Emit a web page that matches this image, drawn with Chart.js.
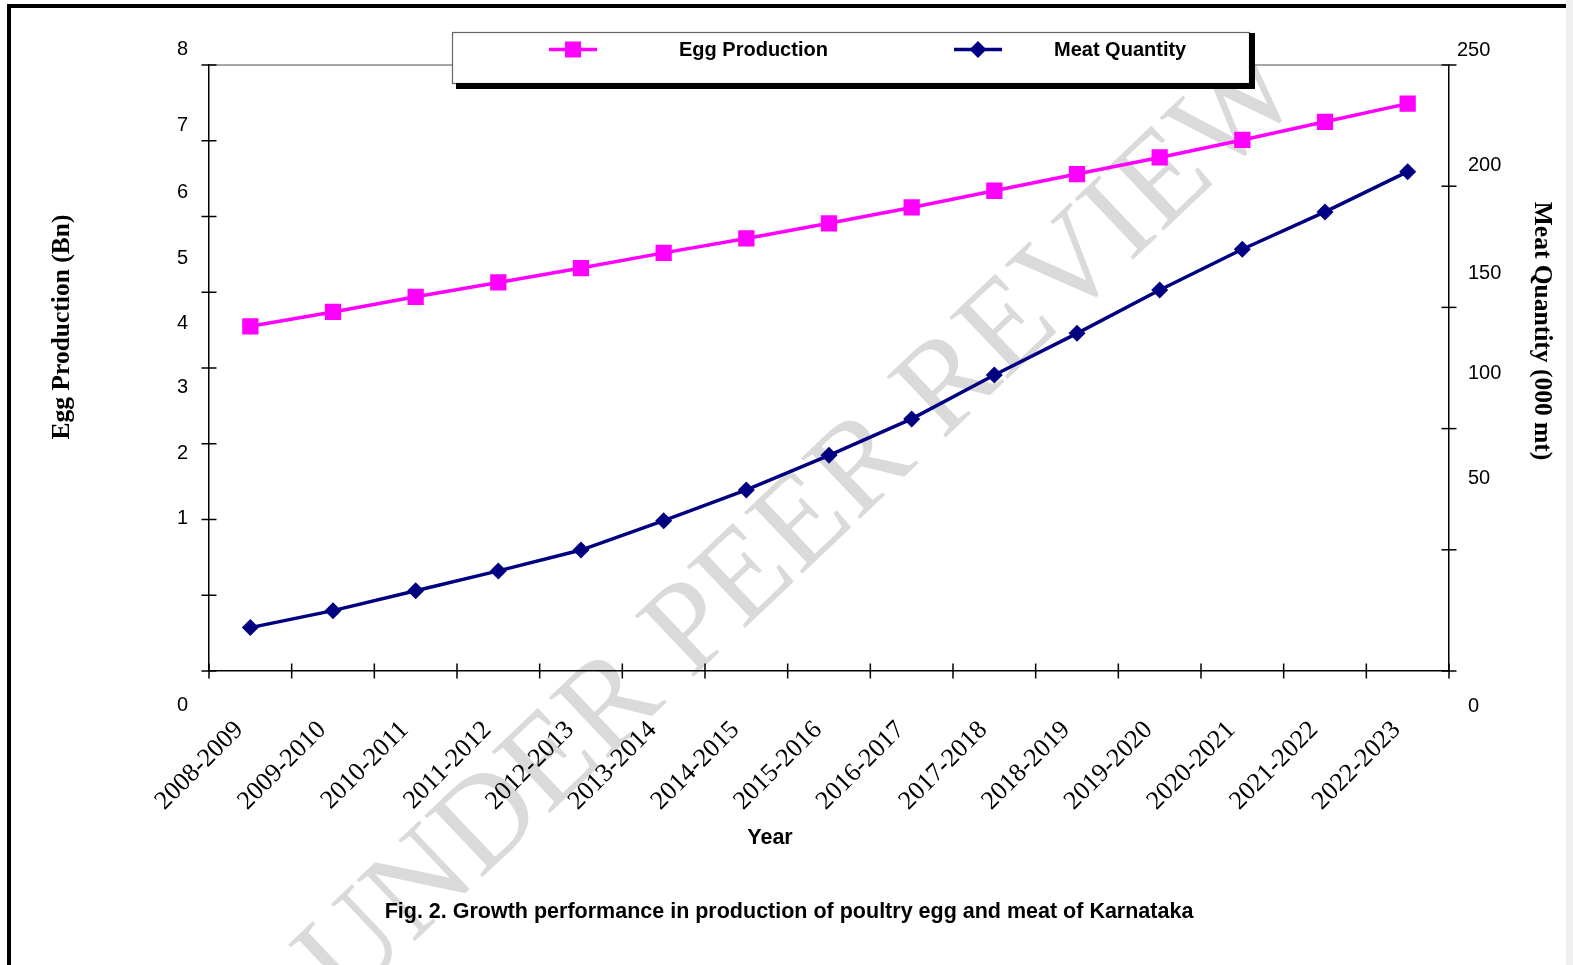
<!DOCTYPE html>
<html><head><meta charset="utf-8">
<script src="https://cdn.jsdelivr.net/npm/chart.js@4.4.0/dist/chart.umd.min.js"></script>
<style>html,body{margin:0;padding:0;background:#fff;overflow:hidden}#wrap{width:1573px;height:965px}</style>
</head><body><div id="wrap"><canvas id="c" width="1573" height="965"></canvas></div>
<script>
const years = ['2008-2009','2009-2010','2010-2011','2011-2012','2012-2013','2013-2014','2014-2015','2015-2016','2016-2017','2017-2018','2018-2019','2019-2020','2020-2021','2021-2022','2022-2023'];
const eggProduction = [4.55, 4.74, 4.94, 5.13, 5.32, 5.52, 5.71, 5.91, 6.12, 6.34, 6.56, 6.78, 7.01, 7.25, 7.49];
const meatQuantity = [17.9, 24.9, 33.1, 41.3, 49.9, 62.0, 74.7, 89.0, 104.0, 122.1, 139.3, 157.2, 174.0, 189.4, 206.0];
const eggTicks = [0, 1, 2, 3, 4, 5, 6, 7, 8];
const meatTicks = [0, 50, 100, 150, 200, 250];
const seriesNames = ['Egg Production', 'Meat Quantity'];
const leftTitle = 'Egg Production (Bn)';
const rightTitle = 'Meat Quantity (000 mt)';
const xTitle = 'Year';
const caption = 'Fig. 2. Growth performance in production of poultry egg and meat of Karnataka';
const watermark = 'UNDER PEER REVIEW';

// label placement quirks of the original figure (layout only)
const leftLabelY = [705, 518, 453, 387, 323, 258, 192, 125, 49];
const rightLabelY = [706, 478, 373, 273, 165, 50];
const rightLabelX = [1468, 1468, 1468, 1468, 1468, 1457];

function seg(ctx, x1, y1, x2, y2) { ctx.beginPath(); ctx.moveTo(x1, y1); ctx.lineTo(x2, y2); ctx.stroke(); }

const decor = {
  id: 'decor',
  beforeDraw(chart) {
    const ctx = chart.ctx;
    ctx.save();
    ctx.fillStyle = '#fff'; ctx.fillRect(0, 0, chart.width, chart.height);
    ctx.fillStyle = '#efefef'; ctx.fillRect(1566, 0, chart.width - 1566, chart.height);
    ctx.fillStyle = '#000';
    ctx.fillRect(7, 4, 1559, 4);
    ctx.fillRect(7, 4, 4, chart.height);
    ctx.translate(802, 527);
    ctx.rotate(-43.5 * Math.PI / 180);
    ctx.font = '129px "Liberation Serif"';
    ctx.fillStyle = '#dadada';
    ctx.textAlign = 'center'; ctx.textBaseline = 'middle';
    ctx.fillText(watermark, 0, 0);
    ctx.restore();
  },
  beforeDatasetsDraw(chart) {
    const ctx = chart.ctx, a = chart.chartArea, s = chart.scales;
    ctx.save();
    ctx.lineWidth = 1.5;
    ctx.strokeStyle = '#8a8a8a';
    seg(ctx, a.left, a.top, a.right, a.top);
    ctx.strokeStyle = '#000';
    eggTicks.forEach(v => { const y = s.y.getPixelForValue(v); seg(ctx, a.left - 7.5, y, a.left + 7.5, y); });
    meatTicks.forEach(v => { const y = s.y1.getPixelForValue(v); seg(ctx, a.right - 7.5, y, a.right + 7.5, y); });
    const n = years.length, w = (a.right - a.left) / n;
    for (let i = 0; i <= n; i++) { const x = a.left + i * w; seg(ctx, x, a.bottom - 7.5, x, a.bottom + 7.5); }
    ctx.fillStyle = '#000';
    ctx.font = '20px "Liberation Sans"';
    ctx.textBaseline = 'middle';
    ctx.textAlign = 'right';
    eggTicks.forEach((v, i) => ctx.fillText(String(v), 188, leftLabelY[i]));
    ctx.textAlign = 'left';
    meatTicks.forEach((v, i) => ctx.fillText(String(v), rightLabelX[i], rightLabelY[i]));
    ctx.restore();
  },
  afterDraw(chart) {
    const ctx = chart.ctx;
    const ds = chart.data.datasets;
    ctx.save();
    // legend box
    ctx.fillStyle = '#fff'; ctx.fillRect(452, 32, 798, 52);
    ctx.strokeStyle = '#666'; ctx.lineWidth = 1.2; ctx.strokeRect(452.5, 32.5, 797, 51);
    ctx.fillStyle = '#000';
    ctx.fillRect(1249, 33, 6, 56);
    ctx.fillRect(456, 83, 799, 6);
    // entries
    const ly = 49.5;
    ctx.lineWidth = 3.5;
    ctx.strokeStyle = ds[0].borderColor; seg(ctx, 549, ly, 597, ly);
    ctx.fillStyle = ds[0].borderColor; ctx.fillRect(565, ly - 8, 16, 16);
    ctx.strokeStyle = ds[1].borderColor; seg(ctx, 954, ly, 1002, ly);
    ctx.fillStyle = ds[1].borderColor;
    ctx.beginPath(); ctx.moveTo(978, ly - 8.5); ctx.lineTo(986.5, ly); ctx.lineTo(978, ly + 8.5); ctx.lineTo(969.5, ly); ctx.closePath(); ctx.fill();
    ctx.fillStyle = '#000';
    ctx.font = 'bold 20px "Liberation Sans"';
    ctx.textAlign = 'left'; ctx.textBaseline = 'middle';
    ctx.fillText(ds[0].label, 679, ly + 1);
    ctx.fillText(ds[1].label, 1054, ly + 1);
    // titles
    ctx.font = 'bold 21.5px "Liberation Sans"';
    ctx.textAlign = 'center';
    ctx.fillText(xTitle, 770, 838);
    ctx.fillText(caption, 789, 912);
    ctx.font = 'bold 25.5px "Liberation Serif"';
    ctx.save(); ctx.translate(62, 327); ctx.rotate(-Math.PI / 2); ctx.fillText(leftTitle, 0, 0); ctx.restore();
    ctx.save(); ctx.translate(1542, 331); ctx.rotate(Math.PI / 2); ctx.fillText(rightTitle, 0, 0); ctx.restore();
    ctx.restore();
  }
};

new Chart(document.getElementById('c'), {
  type: 'line',
  data: {
    labels: years,
    datasets: [
      { label: seriesNames[0], data: eggProduction, yAxisID: 'y', borderColor: '#ff00ff', backgroundColor: '#ff00ff',
        borderWidth: 3.5, pointStyle: 'rect', pointRadius: 11.5, pointBorderWidth: 0, tension: 0 },
      { label: seriesNames[1], data: meatQuantity, yAxisID: 'y1', borderColor: '#000080', backgroundColor: '#000080',
        borderWidth: 3.5, pointStyle: 'rectRot', pointRadius: 8.5, pointBorderWidth: 0, tension: 0 }
    ]
  },
  options: {
    responsive: false, animation: false, devicePixelRatio: 1,
    layout: { padding: { top: 65, left: 0, right: 0, bottom: 0 } },
    plugins: { legend: { display: false }, tooltip: { enabled: false } },
    scales: {
      x: {
        type: 'category', offset: true,
        grid: { display: false, drawTicks: false, offset: true },
        border: { display: true, color: '#000', width: 1.5 },
        ticks: { autoSkip: false, minRotation: 45, maxRotation: 45, padding: 44, labelOffset: -11, color: '#000',
                 font: { family: '"Liberation Serif"', size: 26 } },
        afterFit(sc) { sc.height = 965 - 671; }
      },
      y: {
        position: 'left', min: 0, max: 8,
        grid: { display: false, drawTicks: false },
        border: { display: true, color: '#000', width: 1.5 },
        ticks: { display: false, stepSize: 1 },
        afterFit(sc) { sc.width = 209; }
      },
      y1: {
        position: 'right', min: 0, max: 250,
        grid: { display: false, drawTicks: false },
        border: { display: true, color: '#000', width: 1.5 },
        ticks: { display: false, stepSize: 50 },
        afterFit(sc) { sc.width = 1573 - 1449; }
      }
    }
  },
  plugins: [decor]
});
</script>
</body></html>
